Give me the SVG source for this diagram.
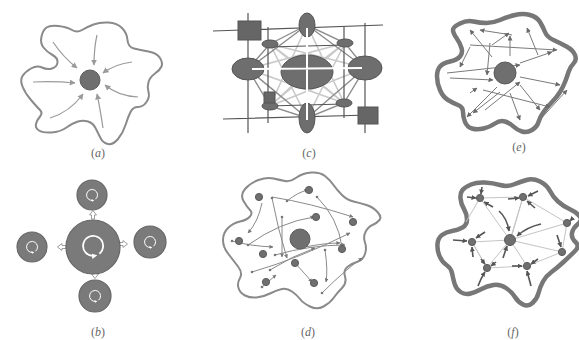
<svg xmlns="http://www.w3.org/2000/svg" width="579" height="340" viewBox="0 0 579 340">
<style>
.lbl{font-family:"Liberation Serif","DejaVu Serif",serif;font-size:12px;fill:#666;text-anchor:middle}
.it{font-style:italic}
.thin{fill:none;stroke:#8a8a8a;stroke-width:2}
.thick{fill:none;stroke:#777;stroke-width:4.5;stroke-linejoin:round}
.aArr{fill:none;stroke:#9a9a9a;stroke-width:1.2;marker-end:url(#mA)}
.eArr{fill:none;stroke:#7a7a7a;stroke-width:1;marker-end:url(#mE)}
.dArr{fill:none;stroke:#8a8a8a;stroke-width:1}
.dot{fill:#777}
.node{fill:#6f6f6f;stroke:#5c5c5c;stroke-width:1}
.fweb{stroke:#c4c4c4;stroke-width:1;fill:none}
.fArr{stroke:#555;stroke-width:1.6;fill:none;marker-end:url(#mF)}
.grid{stroke:#555;stroke-width:1.2;fill:none}
.oct{stroke:#8c8c8c;stroke-width:1.4;fill:none}
.web{stroke:#c9c9c9;stroke-width:1.6;fill:none}
.ell{fill:#6e6e6e;stroke:#555;stroke-width:1}
.sq{fill:#666;stroke:#555;stroke-width:1}
.bc{fill:#7a7a7a;stroke:#666;stroke-width:1.2}
.rot{fill:none;stroke:#fff;stroke-width:1.8;marker-end:url(#mW)}
.blk{fill:#fff;stroke:#888;stroke-width:0.8}
</style>
<defs>
<marker id="mA" viewBox="0 0 10 10" refX="9" refY="5" markerWidth="6" markerHeight="6" markerUnits="userSpaceOnUse" orient="auto"><path d="M0,0 L10,5 L0,10 z" fill="#9a9a9a"/></marker>
<marker id="mE" viewBox="0 0 10 10" refX="9" refY="5" markerWidth="5" markerHeight="5" markerUnits="userSpaceOnUse" orient="auto"><path d="M0,0 L10,5 L0,10 z" fill="#6a6a6a"/></marker>
<marker id="mD" viewBox="0 0 10 10" refX="9" refY="5" markerWidth="4" markerHeight="4" markerUnits="userSpaceOnUse" orient="auto"><path d="M0,0 L10,5 L0,10 z" fill="#777"/></marker>
<marker id="mF" viewBox="0 0 10 10" refX="9" refY="5" markerWidth="5" markerHeight="5" markerUnits="userSpaceOnUse" orient="auto"><path d="M0,0 L10,5 L0,10 z" fill="#555"/></marker>
<marker id="mW" viewBox="0 0 10 10" refX="5" refY="5" markerWidth="3" markerHeight="3" orient="auto"><path d="M0,0 L10,5 L0,10 z" fill="#fff"/></marker>
<path id="spin" d="M6.4,7.7 A10 10 0 1 0 1.7,9.8"/>
<polygon id="blockArr" points="-1.5,4 1.5,4 1.5,0 3.5,0 0,-4.5 -3.5,0 -1.5,0"/>
</defs>
<rect width="579" height="340" fill="#fff"/>

<!-- (a) -->
<g id="panel-a">
<path class="thin" d="M46.5,27.5 Q50,25 58.5,26 Q67,27 72,30 Q77,33 82,30 Q87,27 93.5,24.5 Q100,22 108.5,22.5 Q117,23 122,28 Q127,33 127.5,40 Q128,47 134,48.5 Q140,50 148.5,51.5 Q157,53 160,58 Q163,63 161.5,66.5 Q160,70 155,73.5 Q150,77 148.5,82 Q147,87 148.5,92 Q150,97 146.5,102 Q143,107 138,107 Q133,107 130.5,112 Q128,117 125.5,125 Q123,133 118,139 Q113,145 108,144 Q103,143 100.5,138 Q98,133 95.5,128 Q93,123 88,121.5 Q83,120 78,121.5 Q73,123 66.5,127.5 Q60,132 51.5,132.5 Q43,133 39,130.5 Q35,128 36,124 Q37,120 40,116.5 Q43,113 40,110 Q37,107 31,100 Q25,93 22.5,86.5 Q20,80 22.5,76 Q25,72 31,68.5 Q37,65 42,67.5 Q47,70 52,68.5 Q57,67 57.5,62.5 Q58,58 52.5,55 Q47,52 43.5,47.5 Q40,43 41.5,36.5 Q43,30 46.5,27.5 Z"/>
<circle class="node" cx="90" cy="80" r="10"/>
<g id="a-connectors">
<path class="aArr" d="M53,42 Q63,57 77,68"/>
<path class="aArr" d="M97,35 Q94,48 94,65"/>
<path class="aArr" d="M132,62 Q115,64 103,73"/>
<path class="aArr" d="M138,97 Q118,96 105,85"/>
<path class="aArr" d="M103,128 Q100,108 97,94"/>
<path class="aArr" d="M50,118 Q70,112 83,94"/>
<path class="aArr" d="M33,82 Q55,81 75,83"/>
</g>
<text class="lbl" x="98" y="157">(<tspan class="it">a</tspan>)</text>
</g>

<!-- (b) -->
<g id="panel-b">
<g id="b-connectors">
<use href="#blockArr" class="blk" transform="translate(93,215)"/>
<use href="#blockArr" class="blk" transform="translate(123,244) rotate(90)"/>
<use href="#blockArr" class="blk" transform="translate(95,274) rotate(180)"/>
<use href="#blockArr" class="blk" transform="translate(62,247) rotate(-90)"/>
</g>
<g id="b-center"><circle class="bc" cx="93" cy="247" r="27"/><use href="#spin" class="rot" transform="translate(93,246)"/></g>
<g id="b-top"><circle class="bc" cx="92" cy="195" r="15"/><use href="#spin" class="rot" transform="translate(92,195) scale(0.55)"/></g>
<g id="b-left"><circle class="bc" cx="32" cy="247" r="15"/><use href="#spin" class="rot" transform="translate(32,247) scale(0.55)"/></g>
<g id="b-right"><circle class="bc" cx="150" cy="242" r="16"/><use href="#spin" class="rot" transform="translate(150,242) scale(0.55)"/></g>
<g id="b-bottom"><circle class="bc" cx="95" cy="296" r="16"/><use href="#spin" class="rot" transform="translate(95,296) scale(0.55)"/></g>
<text class="lbl" x="98" y="336">(<tspan class="it">b</tspan>)</text>
</g>

<!-- (c) -->
<g id="panel-c">
<g id="c-web">
<path class="web" d="M270,44 L307,72 M345,43 L307,72 M270,106 L307,72 M344,103 L307,72 M270,44 L344,103 M345,43 L270,106 M270,44 L365,68 M345,43 L248,69 M270,106 L365,68 M344,103 L248,69 M307,25 L270,106 M307,25 L344,103 M307,118 L270,44 M307,118 L345,43"/>
<path class="oct" d="M307,25 L270,44 L248,69 L270,106 L307,118 L344,103 L365,68 L345,43 Z M307,25 L248,69 M307,25 L365,68 M307,118 L248,69 M307,118 L365,68"/>
</g>
<g id="c-grid">
<path class="grid" d="M213,31 L383,25 M223,119 L370,115 M268,47 L345,45 M268,106 L344,104 M248,13 L248,133 M268,27 L268,123 M344,27 L344,118 M365,23 L365,133"/>
</g>
<ellipse class="ell" cx="307" cy="72" rx="26" ry="17"/>
<ellipse class="ell" cx="307" cy="25" rx="8" ry="12"/>
<ellipse class="ell" cx="307" cy="118" rx="8" ry="15"/>
<ellipse class="ell" cx="248" cy="69" rx="16" ry="11"/>
<ellipse class="ell" cx="365" cy="68" rx="17" ry="12"/>
<ellipse class="ell" cx="270" cy="44" rx="8" ry="4"/>
<ellipse class="ell" cx="345" cy="43" rx="8" ry="4"/>
<ellipse class="ell" cx="270" cy="106" rx="8" ry="4"/>
<ellipse class="ell" cx="344" cy="103" rx="8" ry="4"/>
<path d="M252,69 L362,68 M307,28 L307,120" stroke="#fff" stroke-width="2" fill="none"/>
<rect class="sq" x="238" y="21" width="23" height="19"/>
<rect class="sq" x="358" y="107" width="20" height="17"/>
<rect class="sq" x="264" y="92" width="11" height="11"/>
<text class="lbl" x="309" y="157">(<tspan class="it">c</tspan>)</text>
</g>

<!-- (d) -->
<g id="panel-d">
<path class="thin" d="M245,189 Q250,183 258.5,180 Q267,177 273.5,178.5 Q280,180 285,181 Q290,182 296.5,177.5 Q303,173 311.5,172.5 Q320,172 325,176 Q330,180 333.5,185 Q337,190 342,195 Q347,200 353.5,201.5 Q360,203 366.5,205 Q373,207 377.5,212 Q382,217 379.5,220 Q377,223 372.5,225 Q368,227 365.5,232 Q363,237 365,242.5 Q367,248 365,254 Q363,260 358,261.5 Q353,263 348,266.5 Q343,270 345,276.5 Q347,283 342,288 Q337,293 333.5,298 Q330,303 323.5,306.5 Q317,310 310,306.5 Q303,303 300,299 Q297,295 292,291.5 Q287,288 282,289 Q277,290 270,293.5 Q263,297 256.5,297.5 Q250,298 245,295.5 Q240,293 238.5,288 Q237,283 240,278 Q243,273 238,266.5 Q233,260 228,253.5 Q223,247 223,240 Q223,233 228,228 Q233,223 240,221.5 Q247,220 250,216.5 Q253,213 250,210 Q247,207 243.5,201 Q240,195 245,189 Z" stroke-width="1.6"/>
<g id="d-connectors" marker-end="url(#mD)">
<path class="dArr" d="M272,198 Q278,230 287,258"/>
<path class="dArr" d="M272,197 Q310,203 353,217"/>
<path class="dArr" d="M287,201 Q298,192 308,190"/>
<path class="dArr" d="M317,197 Q338,218 342,247"/>
<path class="dArr" d="M262,203 Q258,222 248,233"/>
<path class="dArr" d="M232,241 Q250,246 273,247"/>
<path class="dArr" d="M248,245 Q280,222 314,217"/>
<path class="dArr" d="M282,217 L282,257"/>
<path class="dArr" d="M275,255 Q310,245 345,245"/>
<path class="dArr" d="M270,270 Q292,256 315,248"/>
<path class="dArr" d="M295,263 Q306,275 312,282"/>
<path class="dArr" d="M262,287 L276,275"/>
<path class="dArr" d="M322,293 Q345,270 362,258"/>
<path class="dArr" d="M305,247 Q325,243 340,243"/>
<path class="dArr" d="M252,272 Q300,258 350,233"/>
<path class="dArr" d="M325,250 Q328,270 326,282"/>
</g>
<g class="dot">
<circle cx="272" cy="198" r="1.3"/><circle cx="287" cy="201" r="1.3"/><circle cx="317" cy="197" r="1.3"/><circle cx="232" cy="241" r="1.3"/><circle cx="248" cy="245" r="1.3"/><circle cx="282" cy="217" r="1.3"/><circle cx="275" cy="255" r="1.3"/><circle cx="270" cy="270" r="1.3"/><circle cx="262" cy="287" r="1.3"/><circle cx="322" cy="293" r="1.3"/><circle cx="252" cy="272" r="1.3"/><circle cx="325" cy="250" r="1.3"/>
</g>
<g id="d-nodes">
<circle class="node" cx="259" cy="197" r="3.6"/>
<circle class="node" cx="309" cy="190" r="3.6"/>
<circle class="node" cx="316" cy="217" r="3.6"/>
<circle class="node" cx="353" cy="222" r="3.6"/>
<circle class="node" cx="239" cy="241" r="3.6"/>
<circle class="node" cx="263" cy="254" r="3.6"/>
<circle class="node" cx="295" cy="263" r="3.6"/>
<circle class="node" cx="342" cy="249" r="3.6"/>
<circle class="node" cx="266" cy="282" r="3.6"/>
<circle class="node" cx="314" cy="283" r="3.6"/>
<circle class="node" cx="300" cy="239" r="10"/>
</g>
<text class="lbl" x="308" y="336">(<tspan class="it">d</tspan>)</text>
</g>

<!-- (e) -->
<g id="panel-e">
<path class="thick" d="M460,23.5 Q467,20 473.5,21.5 Q480,23 486.5,23 Q493,23 500,20 Q507,17 515,15 Q523,13 530,15 Q537,17 540,22 Q543,27 545,32 Q547,37 553.5,40 Q560,43 566.5,46.5 Q573,50 575,55 Q577,60 573.5,63.5 Q570,67 568.5,72 Q567,77 565,82 Q563,87 560,92 Q557,97 552,102 Q547,107 543.5,112 Q540,117 538.5,122 Q537,127 532,130 Q527,133 522,131.5 Q517,130 513.5,126.5 Q510,123 505,121.5 Q500,120 495,123.5 Q490,127 483.5,128.5 Q477,130 472,128.5 Q467,127 465,122 Q463,117 463,112 Q463,107 458,105 Q453,103 448,100 Q443,97 440,90 Q437,83 437,76.5 Q437,70 440,66.5 Q443,63 450,61.5 Q457,60 460,56.5 Q463,53 461.5,48 Q460,43 456.5,38 Q453,33 453,30 Q453,27 460,23.5 Z"/>
<g id="e-connectors">
<path class="eArr" d="M492,57 L470,30"/>
<path class="eArr" d="M512,35 L480,30"/>
<path class="eArr" d="M492,45 L509,33"/>
<path class="eArr" d="M510,56 L510,36"/>
<path class="eArr" d="M538,55 L527,28"/>
<path class="eArr" d="M470,45 L557,50"/>
<path class="eArr" d="M470,47 L460,67"/>
<path class="eArr" d="M447,73 L520,65"/>
<path class="eArr" d="M520,63 L552,52"/>
<path class="eArr" d="M450,78 L493,80"/>
<path class="eArr" d="M520,77 L560,85"/>
<path class="eArr" d="M520,85 L540,110"/>
<path class="eArr" d="M497,87 L467,117"/>
<path class="eArr" d="M500,92 L473,113"/>
<path class="eArr" d="M470,93 L477,88"/>
<path class="eArr" d="M510,93 L520,120"/>
<path class="eArr" d="M537,123 L567,90"/>
<path class="eArr" d="M483,90 L550,107"/>
<path class="eArr" d="M490,43 L487,75"/>
<path class="eArr" d="M485,110 L520,82"/>
</g>
<circle class="node" cx="505" cy="73" r="11"/>
<text class="lbl" x="519" y="151">(<tspan class="it">e</tspan>)</text>
</g>

<!-- (f) -->
<g id="panel-f">
<path class="thick" d="M471,184.5 Q477,182 485,182.5 Q493,183 500,185 Q507,187 513.5,184.5 Q520,182 526.5,180 Q533,178 540,181.5 Q547,185 550,191 Q553,197 558,201.5 Q563,206 569.5,209 Q576,212 579.5,216 Q583,220 578,224 Q573,228 572,233 Q571,238 575.5,242 Q580,246 575,251 Q570,256 563.5,262 Q557,268 551.5,272 Q546,276 543,281.5 Q540,287 538.5,293 Q537,299 532.5,303 Q528,307 523,304.5 Q518,302 515,297 Q512,292 506,288 Q500,284 493.5,285 Q487,286 481.5,289 Q476,292 470.5,293.5 Q465,295 460.5,292 Q456,289 454.5,283.5 Q453,278 452,273 Q451,268 446.5,265 Q442,262 439.5,256 Q437,250 437.5,244 Q438,238 442,235 Q446,232 452,231 Q458,230 462.5,227.5 Q467,225 467,219.5 Q467,214 464,209 Q461,204 460.5,198.5 Q460,193 462.5,190 Q465,187 471,184.5 Z"/>
<g id="f-web">
<path class="fweb" d="M480,198 L510,240 M523,197 L510,240 M567,223 L510,240 M562,252 L510,240 M527,266 L510,240 M487,268 L510,240 M472,242 L510,240 M480,198 L523,197 M523,197 L567,223 M567,223 L562,252 M562,252 L527,266 M527,266 L487,268 M487,268 L472,242 M480,198 L466,222 M523,197 L512,235 M472,242 L487,268"/>
</g>
<g id="f-connectors">
<path class="fArr" d="M467,197 L476,198"/>
<path class="fArr" d="M482,187 L481,194"/>
<path class="fArr" d="M493,207 L484,202"/>
<path class="fArr" d="M508,199 L519,198"/>
<path class="fArr" d="M538,191 L528,196"/>
<path class="fArr" d="M535,208 L527,201"/>
<path class="fArr" d="M499,211 Q507,218 509,231"/>
<path class="fArr" d="M541,224 Q527,227 517,236"/>
<path class="fArr" d="M453,240 L467,241"/>
<path class="fArr" d="M485,232 L476,238"/>
<path class="fArr" d="M473,257 L472,247"/>
<path class="fArr" d="M496,262 L491,266"/>
<path class="fArr" d="M481,259 L485,264"/>
<path class="fArr" d="M478,286 Q481,278 485,272"/>
<path class="fArr" d="M512,266 L522,266"/>
<path class="fArr" d="M538,259 L531,264"/>
<path class="fArr" d="M531,286 L527,271"/>
<path class="fArr" d="M557,235 L561,247"/>
<path class="fArr" d="M503,258 L507,246"/>
<path class="fArr" d="M573,218 L570,221"/>
</g>
<g id="f-nodes">
<circle class="node" cx="480" cy="198" r="3.6"/>
<circle class="node" cx="523" cy="197" r="3.6"/>
<circle class="node" cx="567" cy="223" r="3.6"/>
<circle class="node" cx="562" cy="252" r="3.6"/>
<circle class="node" cx="527" cy="266" r="3.6"/>
<circle class="node" cx="487" cy="268" r="3.6"/>
<circle class="node" cx="472" cy="242" r="3.6"/>
<circle class="node" cx="510" cy="240" r="5.5"/>
</g>
<text class="lbl" x="513" y="336">(<tspan class="it">f</tspan>)</text>
</g>
</svg>
